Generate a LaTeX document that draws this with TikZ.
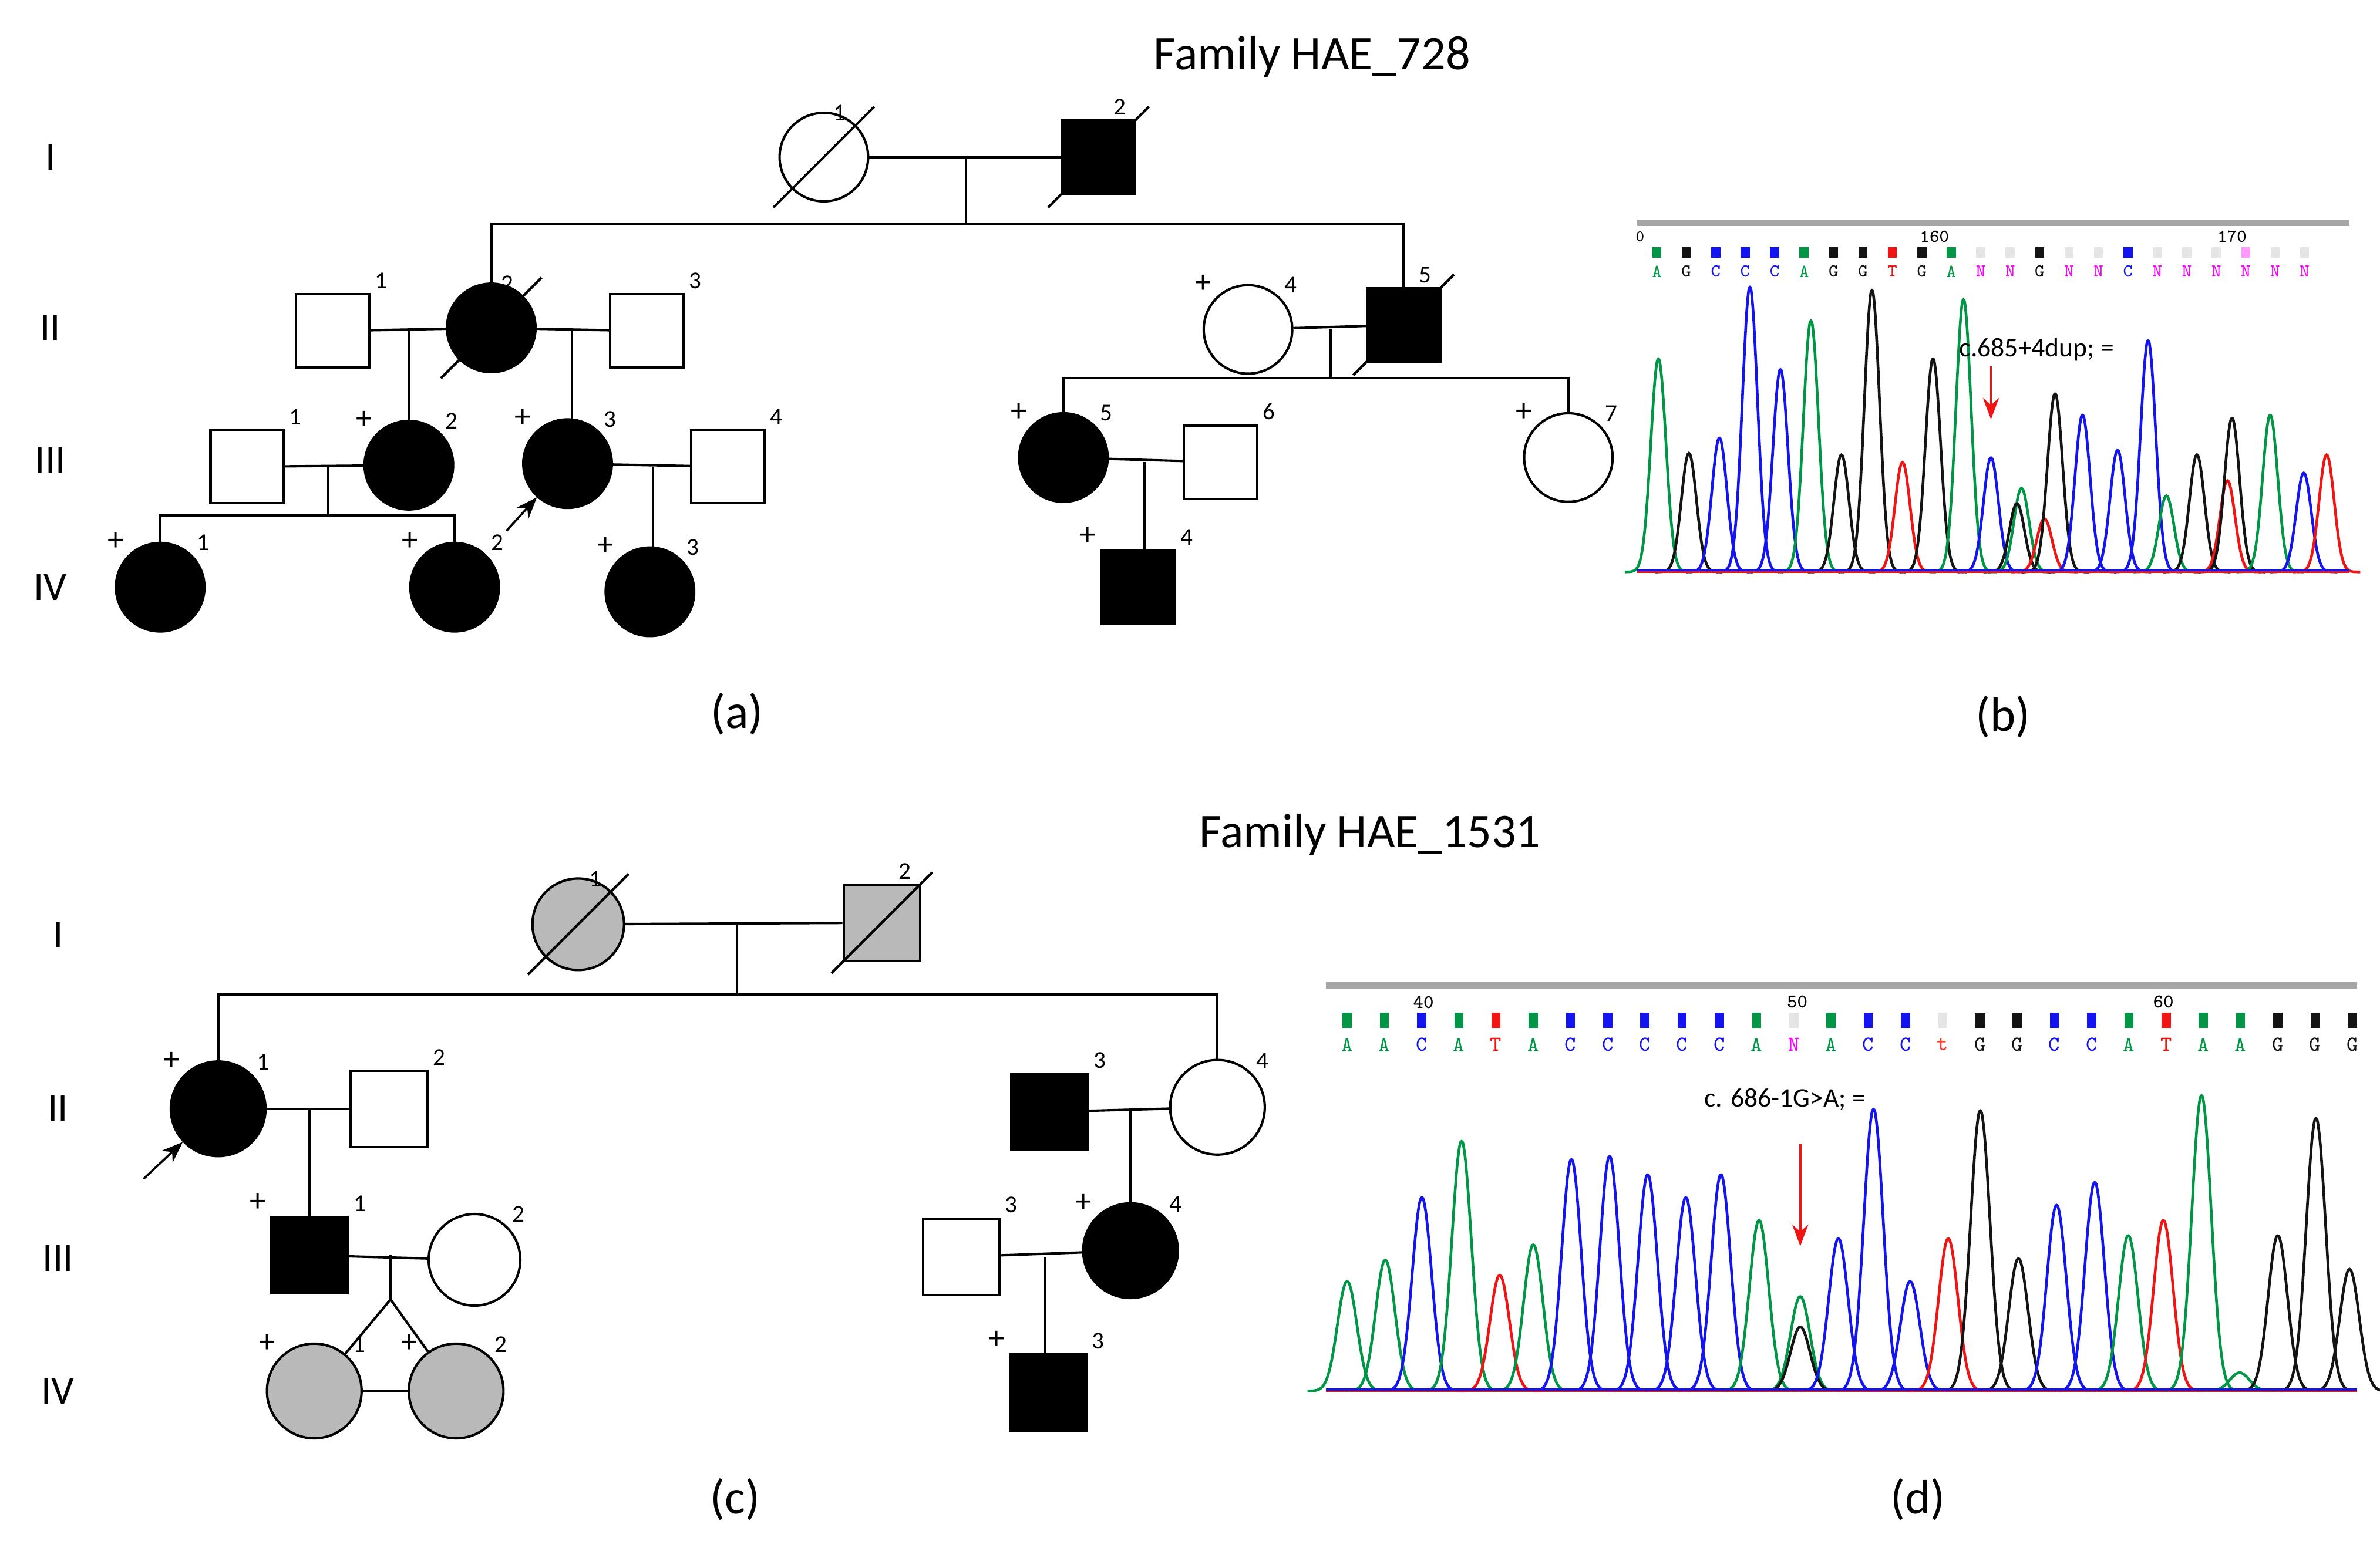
\documentclass[tikz,border=0pt]{standalone}
\usepackage{fontspec}
\setmainfont{Carlito}
\usetikzlibrary{calc,arrows.meta}
\definecolor{bA}{RGB}{0,150,70}
\definecolor{bC}{RGB}{20,20,240}
\definecolor{bG}{RGB}{20,20,20}
\definecolor{bT}{RGB}{240,20,20}
\definecolor{bN}{RGB}{255,0,255}
\definecolor{bt}{RGB}{255,60,40}
\newcommand{\dslash}[1]{\draw ([shift={(-33,33)}]#1.center) -- ([shift={(33,-33)}]#1.center);}
\begin{document}
\begin{tikzpicture}[x=0.01cm,y=-0.01cm,line width=0.45pt,
  male/.style={draw,minimum size=4.8mm,inner sep=0pt},
  fem/.style={draw,circle,minimum size=5.8mm,inner sep=0pt},
  aff/.style={fill=black},
  car/.style={fill=gray!55},
  num/.style={font=\fontsize{4.5}{5}\selectfont,inner sep=0.6pt},
  n/.style={label={[num]north east:#1}},
  dn/.style={label={[num,xshift=-5]north east:#1}},
  p/.style={label={[num,font=\fontsize{6}{6}\selectfont]north west:+}},
  gen/.style={font=\fontsize{7.5}{8}\selectfont},
  sub/.style={font=\fontsize{9}{10}\selectfont},
  ttl/.style={font=\fontsize{9}{10}\selectfont},
  seq/.style={font=\ttfamily\fontsize{3.4}{4}\selectfont,inner sep=0pt},
  pr/.style={-{Stealth[length=4pt]},line width=0.4pt}]
\useasboundingbox (0,0) rectangle (1560,1010);
% ---------- family HAE_728
\node[ttl] at (860,37) {Family HAE\_728};
\foreach \g/\y in {I/103,II/215,III/302,IV/385} \node[gen] at (33,\y) {\g};
\node (aI1) [fem,dn=1] at (540,103) {};
\node (aI2) [male,aff,dn=2] at (720,103) {};
\node (aII1) [male,n=1] at (218,217) {};
\node (aII2) [fem,aff,dn=2] at (322,215) {};
\node (aII3) [male,n=3] at (424,217) {};
\node (aII4) [fem,p,n=4] at (818,216) {};
\node (aII5) [male,aff,dn=5] at (920,213) {};
\node (aIII1) [male,n=1] at (162,306) {};
\node (aIII2) [fem,aff,p,n=2] at (268,305) {};
\node (aIII3) [fem,aff,p,n=3] at (372,304) {};
\node (aIII4) [male,n=4] at (477,306) {};
\node (aIII5) [fem,aff,p,n=5] at (697,300) {};
\node (aIII6) [male,n=6] at (800,303) {};
\node (aIII7) [fem,p,n=7] at (1028,300) {};
\node (aIV1) [fem,aff,p,n=1] at (105,385) {};
\node (aIV2) [fem,aff,p,n=2] at (298,385) {};
\node (aIV3) [fem,aff,p,n=3] at (426,388) {};
\node (aIV4) [male,aff,p,n=4] at (746,385) {};
\dslash{aI1} \dslash{aI2} \dslash{aII2} \dslash{aII5}
\draw (aI1) -- (aI2);
\coordinate (am1) at (633,103);
\draw (am1) -- (633,147) coordinate (as1);
\draw (aII2) |- (as1) -| (aII5);
\draw (aII1) -- (aII2);
\draw (aII2) -- (aII3);
\draw (268,217) -- (aIII2);
\draw (375,217) -- (375,276);
\draw (aII4) -- (aII5);
\draw (872,216) -- (872,248) coordinate (as2);
\draw (aIII5) |- (as2) -| (aIII7);
\draw (aIII1) -- (aIII2);
\draw (215,306) -- (215,338) coordinate (as3);
\draw (aIV1) |- (as3) -| (aIV2);
\draw (aIII3) -- (aIII4);
\draw (428,306) -- (428,360);
\draw (aIII5) -- (aIII6);
\draw (750,303) -- (750,362);
\coordinate (aprb) at (332,348);
\draw[pr] (aprb) -- (aIII3);
\node[sub] at (483,468) {(a)};
\node[sub] at (1313,470) {(b)};
% ---------- family HAE_1531
\node[ttl] at (898,547) {Family HAE\_1531};
\foreach \g/\y in {I/613,II/727,III/825,IV/912} \node[gen] at (38,\y) {\g};
\node (cI1) [fem,car,minimum size=6mm,dn=1] at (379,606) {};
\node (cI2) [male,car,minimum size=5mm,dn=2] at (578,605) {};
\node (cII1) [fem,aff,minimum size=6.2mm,p,n=1] at (143,727) {};
\node (cII2) [male,minimum size=5mm,n=2] at (255,727) {};
\node (cII3) [male,aff,minimum size=5mm,n=3] at (688,729) {};
\node (cII4) [fem,minimum size=6.2mm,n=4] at (798,726) {};
\node (cIII1) [male,aff,minimum size=5mm,p,n=1] at (203,823) {};
\node (cIII2) [fem,minimum size=6mm,n=2] at (311,826) {};
\node (cIII3) [male,minimum size=5mm,n=3] at (630,824) {};
\node (cIII4) [fem,aff,minimum size=6.2mm,p,n=4] at (741,820) {};
\node (cIV1) [fem,car,minimum size=6.2mm,p,n=1] at (206,912) {};
\node (cIV2) [fem,car,minimum size=6.2mm,p,n=2] at (299,912) {};
\node (cIV3) [male,aff,minimum size=5mm,p,n=3] at (687,913) {};
\dslash{cI1} \dslash{cI2}
\draw (cI1) -- (cI2);
\draw (483,606) -- (483,652) coordinate (cs1);
\draw (cII1) |- (cs1) -| (cII4);
\draw (cII1) -- (cII2);
\draw (203,727) -- (cIII1);
\draw (cIII1) -- (cIII2);
\draw (256,823) -- (256,852) coordinate (ct);
\draw (ct) -- (cIV1);
\draw (ct) -- (cIV2);
\draw (cIV1) -- (cIV2);
\draw (cII3) -- (cII4);
\draw (741,727) -- (cIII4);
\draw (cIII3) -- (cIII4);
\draw (685,824) -- (685,888);
\coordinate (cprb) at (94,773);
\draw[pr] (cprb) -- (cII1);
\node[sub] at (482,983) {(c)};
\node[sub] at (1257,983) {(d)};
% ---------- trace (b)
\draw[gray!70,line width=1.2pt] (1073,146) -- (1540,146);
\node[seq,font=\ttfamily\fontsize{3}{3}\selectfont] at (1075,155) {0};
\node[seq] at (1268,155) {160};
\node[seq] at (1463,155) {170};
\foreach \l/\c/\q [count=\i from 0] in {A/bA/bA,G/bG/bG,C/bC/bC,C/bC/bC,C/bC/bC,A/bA/bA,G/bG/bG,G/bG/bG,T/bT/bT,G/bG/bG,A/bA/bA,N/bN/gray!20,N/bN/gray!20,G/bG/bG,N/bN/gray!20,N/bN/gray!20,C/bC/bC,N/bN/gray!20,N/bN/gray!20,N/bN/gray!20,N/bN/bN!40,N/bN/gray!20,N/bN/gray!20} {
  \node[seq,text=\c] at ({1086+\i*19.3},178) {\l};
  \fill[\q] ({1083+\i*19.3},162) rectangle ({1089+\i*19.3},169);
}
\foreach \px/\h/\c in {1087/140/bA,1107/78/bG,1127/88/bC,1147/187/bC,1167/133/bC,1187/165/bA,1207/77/bG,1227/185/bG,1247/72/bT,1267/140/bG,1287/179/bA,1305/75/bC,1325/55/bA,1322/45/bG,1340/35/bT,1347/117/bG,1365/103/bC,1388/80/bC,1408/152/bC,1420/50/bA,1440/77/bG,1460/60/bT,1463/101/bG,1488/103/bA,1510/65/bC,1525/77/bT}
  \draw[\c,line width=0.5pt] plot[domain=\px-22:\px+22,samples=30,smooth] (\x,{375-\h*exp(-((\x-\px)/7)^2)});
\draw[bT,line width=0.4pt] (1073,375) -- (1540,375);
\draw[bC,line width=0.4pt] (1073,374) -- (1540,374);
\node[seq,font=\fontsize{5}{6}\selectfont] at (1335,229) {c.685+4dup; =};
\coordinate (bt1) at (1305,240);
\coordinate (bt2) at (1305,275);
\draw[pr,bT] (bt1) -- (bt2);
% ---------- trace (d)
\draw[gray!70,line width=1.2pt] (869,646) -- (1545,646);
\node[seq,font=\ttfamily\fontsize{3.6}{4}\selectfont] at (933,657) {40};
\node[seq,font=\ttfamily\fontsize{3.6}{4}\selectfont] at (1178,657) {50};
\node[seq,font=\ttfamily\fontsize{3.6}{4}\selectfont] at (1418,657) {60};
\foreach \l/\c/\q [count=\i from 0] in {A/bA/bA,A/bA/bA,C/bC/bC,A/bA/bA,T/bT/bT,A/bA/bA,C/bC/bC,C/bC/bC,C/bC/bC,C/bC/bC,C/bC/bC,A/bA/bA,N/bN/gray!20,A/bA/bA,C/bC/bC,C/bC/bC,t/bt/gray!20,G/bG/bG,G/bG/bG,C/bC/bC,C/bC/bC,A/bA/bA,T/bT/bT,A/bA/bA,A/bA/bA,G/bG/bG,G/bG/bG,G/bG/bG} {
  \node[seq,font=\ttfamily\fontsize{4}{5}\selectfont,text=\c] at ({883+\i*24.4},685) {\l};
  \fill[\q] ({880+\i*24.4},664) rectangle ({886+\i*24.4},674);
}
\foreach \px/\h/\c in {883/72/bA,908/86/bA,932/127/bC,958/164/bA,983/76/bT,1005/96/bA,1030/152/bC,1055/154/bC,1080/142/bC,1105/127/bC,1128/142/bC,1153/112/bA,1180/62/bA,1180/42/bG,1205/100/bC,1228/185/bC,1252/72/bC,1277/100/bT,1298/184/bG,1323/87/bG,1348/122/bC,1373/137/bC,1395/102/bA,1418/112/bT,1443/194/bA,1468/12/bA,1493/102/bG,1518/179/bG,1540/80/bG}
  \draw[\c,line width=0.5pt] plot[domain=\px-26:\px+26,samples=30,smooth] (\x,{912-\h*exp(-((\x-\px)/9)^2)});
\draw[bT,line width=0.4pt] (869,912) -- (1545,912);
\draw[bC,line width=0.4pt] (869,911) -- (1545,911);
\node[seq,font=\fontsize{5}{6}\selectfont] at (1170,721) {c. 686-1G>A; =};
\coordinate (dt1) at (1180,750);
\coordinate (dt2) at (1180,817);
\draw[pr,bT] (dt1) -- (dt2);
\end{tikzpicture}
\end{document}
